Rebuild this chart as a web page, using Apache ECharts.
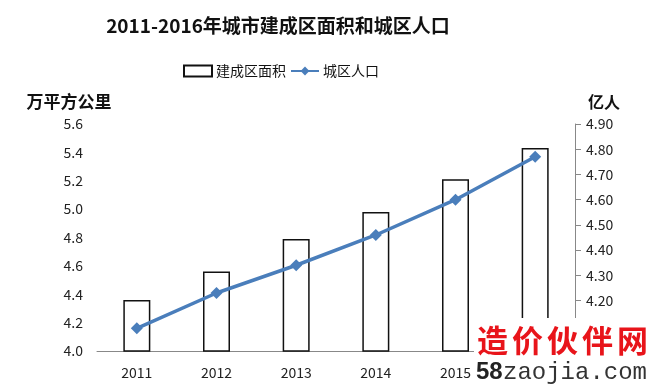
<!DOCTYPE html>
<html><head><meta charset="utf-8">
<script src="https://cdn.jsdelivr.net/npm/echarts@6/dist/echarts.min.js"></script>
<style>html,body{margin:0;padding:0;background:#fff}#c{width:650px;height:389px}</style>
</head><body><div id="c"></div>
<script>
var years = ['2011','2012','2013','2014','2015','2016'];
var area = [4.36, 4.56, 4.79, 4.98, 5.21, 5.43];
var population = [4.09, 4.23, 4.34, 4.46, 4.60, 4.77];
var areaName = '建成区面积';
var popName = '城区人口';
var wmChars = ['造','价','伙','伴','网'];

var chart = echarts.init(document.getElementById('c'));
var font = '"Noto Sans CJK SC", "Noto Sans", sans-serif';
var graphics = [
  {type: 'rect', left: 474, top: 318, shape: {width: 176, height: 71}, style: {fill: '#fff'}, z: 100},
  {type: 'text', left: 476, top: 360, z: 101, style: {text: '58', fill: '#222', font: 'bold 24px "Liberation Sans", sans-serif'}},
  {type: 'text', left: 503, top: 361, z: 101, style: {text: 'zaojia.com', fill: '#333', font: '24px "Liberation Mono", monospace'}}
];
wmChars.forEach(function(ch, i){
  graphics.push({type: 'text', left: 477 + i * 35, top: 325, z: 101,
    style: {text: ch, fill: '#e8141a', font: 'bold 31px "Noto Sans CJK SC", sans-serif'}});
});
chart.setOption({
  animation: false,
  backgroundColor: '#fff',
  title: {
    text: '2011-2016年城市建成区面积和城区人口',
    left: 273, top: 11, textAlign: 'center',
    textStyle: {fontSize: 19, fontWeight: 'bold', color: '#111', fontFamily: font}
  },
  legend: {
    top: 59, left: 178, itemGap: 4, itemWidth: 28, itemHeight: 11,
    textStyle: {fontSize: 14, color: '#111', fontFamily: font, padding: [0, 0, 0, -1]},
    data: [{name: areaName, icon: 'rect'}, {name: popName}]
  },
  grid: {left: 97, right: 75, top: 124, bottom: 38},
  xAxis: {
    type: 'category', data: years,
    axisLine: {lineStyle: {color: '#888', width: 1}},
    axisTick: {show: false},
    axisLabel: {fontSize: 14, color: '#222', margin: 15, fontFamily: font}
  },
  yAxis: [{
    type: 'value', min: 4.0, max: 5.6, interval: 0.2,
    name: '万平方公里', nameLocation: 'end', nameGap: 14,
    nameTextStyle: {fontSize: 17, fontWeight: 'bold', color: '#111', fontFamily: font, align: 'center', padding: [0, 56, 0, 0]},
    axisLine: {show: false}, axisTick: {show: false}, splitLine: {show: false},
    axisLabel: {fontSize: 14, color: '#222', margin: 14, fontFamily: font, formatter: function(v){return v.toFixed(1);}}
  }, {
    type: 'value', min: 4.0, max: 4.9, interval: 0.1, position: 'right',
    name: '亿人', nameLocation: 'end', nameGap: 14,
    nameTextStyle: {fontSize: 16, fontWeight: 'bold', color: '#111', fontFamily: font, align: 'left', padding: [0, 0, 0, 13]},
    axisLine: {show: true, lineStyle: {color: '#888'}},
    axisTick: {show: true, length: 6, lineStyle: {color: '#888'}},
    splitLine: {show: false},
    axisLabel: {fontSize: 14, color: '#222', margin: 11, fontFamily: font, formatter: function(v){return v.toFixed(2);}}
  }],
  series: [{
    name: areaName, type: 'bar', data: area, barWidth: 27, yAxisIndex: 0,
    itemStyle: {color: '#fff', borderColor: '#111', borderWidth: 1.5}
  }, {
    name: popName, type: 'line', data: population, yAxisIndex: 1,
    symbol: 'diamond', symbolSize: 12,
    lineStyle: {color: '#4a7ebb', width: 3.5},
    itemStyle: {color: '#4a7ebb'}
  }],
  graphic: graphics
});
</script></body></html>
